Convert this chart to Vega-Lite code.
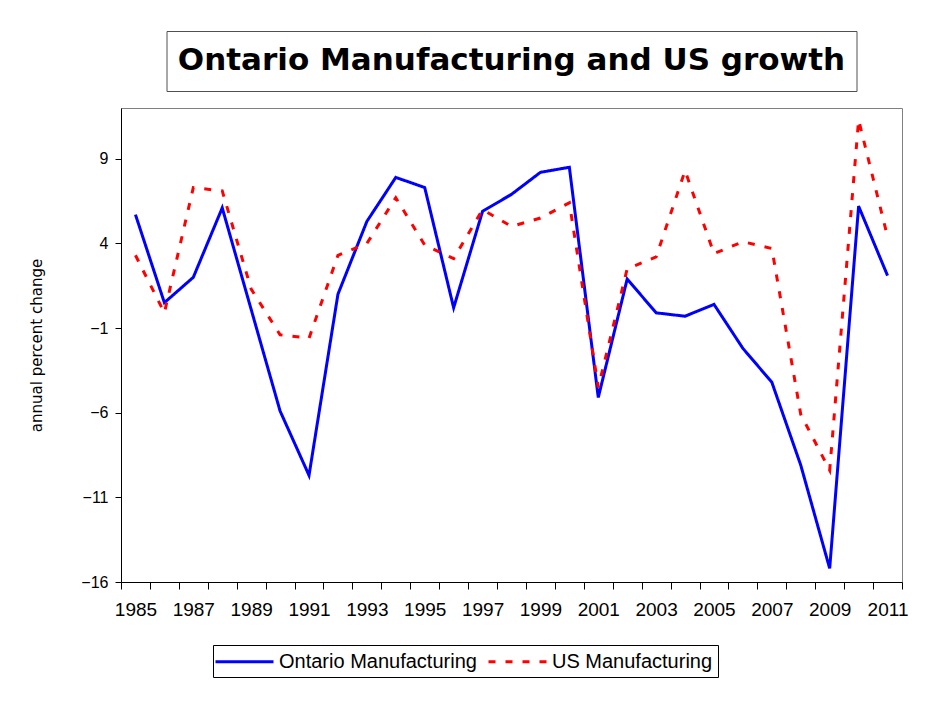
{
  "$schema": "https://vega.github.io/schema/vega-lite/v6.json",
  "background": "white",
  "padding": {"left": 29, "top": 30, "right": 5, "bottom": 5},
  "config": {"font": "Liberation Sans", "view": {"stroke": "#808080", "strokeWidth": 1}},
  "spacing": 17,
  "bounds": "flush",
  "center": true,
  "vconcat": [
    {
      "width": 690,
      "height": 60,
      "view": {"stroke": "#505050", "strokeWidth": 1},
      "data": {"values": [{"t": "Ontario Manufacturing and US growth"}]},
      "mark": {"type": "text", "font": "DejaVu Sans", "fontWeight": "bold", "fontSize": 31, "color": "black", "align": "center", "baseline": "middle"},
      "encoding": {"text": {"field": "t", "type": "nominal"}}
    },
    {
      "width": 781,
      "height": 474,
      "data": {"values": [
        {"year": 1985, "series": "Ontario Manufacturing", "value": 5.7},
        {"year": 1986, "series": "Ontario Manufacturing", "value": 0.5},
        {"year": 1987, "series": "Ontario Manufacturing", "value": 2.0},
        {"year": 1988, "series": "Ontario Manufacturing", "value": 6.1},
        {"year": 1989, "series": "Ontario Manufacturing", "value": 0.1},
        {"year": 1990, "series": "Ontario Manufacturing", "value": -5.9},
        {"year": 1991, "series": "Ontario Manufacturing", "value": -9.7},
        {"year": 1992, "series": "Ontario Manufacturing", "value": 1.0},
        {"year": 1993, "series": "Ontario Manufacturing", "value": 5.3},
        {"year": 1994, "series": "Ontario Manufacturing", "value": 7.9},
        {"year": 1995, "series": "Ontario Manufacturing", "value": 7.3},
        {"year": 1996, "series": "Ontario Manufacturing", "value": 0.2},
        {"year": 1997, "series": "Ontario Manufacturing", "value": 5.9},
        {"year": 1998, "series": "Ontario Manufacturing", "value": 6.9},
        {"year": 1999, "series": "Ontario Manufacturing", "value": 8.2},
        {"year": 2000, "series": "Ontario Manufacturing", "value": 8.5},
        {"year": 2001, "series": "Ontario Manufacturing", "value": -5.1},
        {"year": 2002, "series": "Ontario Manufacturing", "value": 1.9},
        {"year": 2003, "series": "Ontario Manufacturing", "value": -0.1},
        {"year": 2004, "series": "Ontario Manufacturing", "value": -0.3},
        {"year": 2005, "series": "Ontario Manufacturing", "value": 0.4},
        {"year": 2006, "series": "Ontario Manufacturing", "value": -2.2},
        {"year": 2007, "series": "Ontario Manufacturing", "value": -4.2},
        {"year": 2008, "series": "Ontario Manufacturing", "value": -9.1},
        {"year": 2009, "series": "Ontario Manufacturing", "value": -15.2},
        {"year": 2010, "series": "Ontario Manufacturing", "value": 6.2},
        {"year": 2011, "series": "Ontario Manufacturing", "value": 2.1},
        {"year": 1985, "series": "US Manufacturing", "value": 3.3},
        {"year": 1986, "series": "US Manufacturing", "value": -0.1},
        {"year": 1987, "series": "US Manufacturing", "value": 7.3},
        {"year": 1988, "series": "US Manufacturing", "value": 7.1},
        {"year": 1989, "series": "US Manufacturing", "value": 1.3},
        {"year": 1990, "series": "US Manufacturing", "value": -1.4},
        {"year": 1991, "series": "US Manufacturing", "value": -1.6},
        {"year": 1992, "series": "US Manufacturing", "value": 3.3},
        {"year": 1993, "series": "US Manufacturing", "value": 4.0},
        {"year": 1994, "series": "US Manufacturing", "value": 6.7},
        {"year": 1995, "series": "US Manufacturing", "value": 3.9},
        {"year": 1996, "series": "US Manufacturing", "value": 3.1},
        {"year": 1997, "series": "US Manufacturing", "value": 6.0},
        {"year": 1998, "series": "US Manufacturing", "value": 5.0},
        {"year": 1999, "series": "US Manufacturing", "value": 5.5},
        {"year": 2000, "series": "US Manufacturing", "value": 6.4},
        {"year": 2001, "series": "US Manufacturing", "value": -4.5},
        {"year": 2002, "series": "US Manufacturing", "value": 2.5},
        {"year": 2003, "series": "US Manufacturing", "value": 3.2},
        {"year": 2004, "series": "US Manufacturing", "value": 8.3},
        {"year": 2005, "series": "US Manufacturing", "value": 3.4},
        {"year": 2006, "series": "US Manufacturing", "value": 4.1},
        {"year": 2007, "series": "US Manufacturing", "value": 3.7},
        {"year": 2008, "series": "US Manufacturing", "value": -6.1},
        {"year": 2009, "series": "US Manufacturing", "value": -9.4},
        {"year": 2010, "series": "US Manufacturing", "value": 11.3},
        {"year": 2011, "series": "US Manufacturing", "value": 4.4}
      ]},
      "mark": {"type": "line", "strokeWidth": 3},
      "encoding": {
        "x": {
          "field": "year",
          "type": "ordinal",
          "bandPosition": 0.5,
          "scale": {"type": "band", "paddingInner": 0, "paddingOuter": 0},
          "axis": {
            "title": null,
            "labelAngle": 0,
            "tickBand": "extent",
            "labelExpr": "datum.value % 2 == 1 ? datum.label : ''",
            "labelOverlap": false,
            "labelBound": false,
            "labelFont": "Liberation Sans",
            "labelFontSize": 19,
            "labelColor": "black",
            "labelPadding": 11,
            "tickSize": 7,
            "tickColor": "black",
            "domainColor": "black",
            "grid": false
          }
        },
        "y": {
          "field": "value",
          "type": "quantitative",
          "scale": {"domain": [-16, 12], "nice": false, "zero": false},
          "axis": {
            "title": "annual percent change",
            "titleFont": "DejaVu Sans",
            "titleFontSize": 15,
            "titleFontWeight": "normal",
            "titleColor": "black",
            "titlePadding": 36,
            "values": [-16, -11, -6, -1, 4, 9],
            "labelFont": "Liberation Sans",
            "labelFontSize": 16,
            "labelColor": "black",
            "labelPadding": 7,
            "tickSize": 6,
            "tickColor": "black",
            "domainColor": "black",
            "grid": false
          }
        },
        "color": {
          "field": "series",
          "type": "nominal",
          "scale": {"domain": ["Ontario Manufacturing", "US Manufacturing"], "range": ["#0000FF", "#FF0000"]},
          "legend": {
            "title": null,
            "orient": "none",
            "legendX": 92,
            "legendY": 614,
            "direction": "horizontal",
            "symbolType": "M-1.4,0H4.4",
            "symbolSize": 400,
            "symbolStrokeWidth": 3,
            "labelFont": "Liberation Sans",
            "labelFontSize": 20,
            "labelColor": "black",
            "labelOffset": 38,
            "labelLimit": 0,
            "columnPadding": 5,
            "padding": 5,
            "strokeColor": "black",
            "fillColor": "white"
          }
        },
        "strokeDash": {
          "field": "series",
          "type": "nominal",
          "scale": {"domain": ["Ontario Manufacturing", "US Manufacturing"], "range": [[1, 0], [7, 10]]},
          "legend": {
            "title": null,
            "orient": "none",
            "legendX": 92,
            "legendY": 614,
            "direction": "horizontal",
            "symbolType": "M-1.4,0H4.4",
            "symbolSize": 400,
            "symbolStrokeWidth": 3,
            "labelFont": "Liberation Sans",
            "labelFontSize": 20,
            "labelColor": "black",
            "labelOffset": 38,
            "labelLimit": 0,
            "columnPadding": 5,
            "padding": 5,
            "strokeColor": "black",
            "fillColor": "white"
          }
        }
      }
    }
  ]
}
